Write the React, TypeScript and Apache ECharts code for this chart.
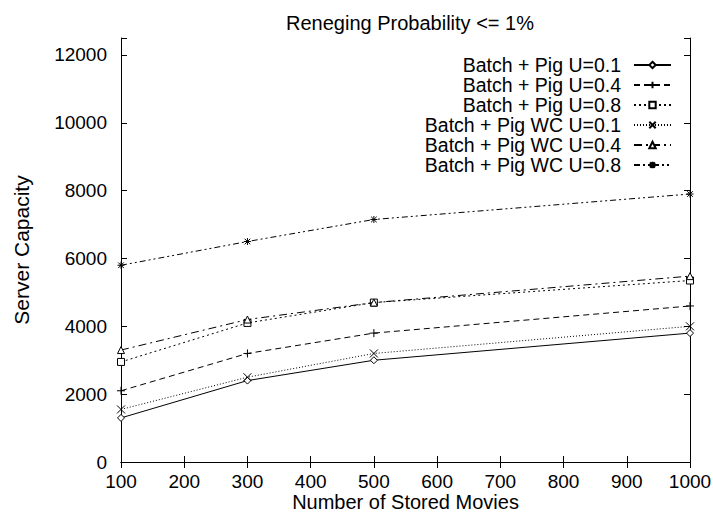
import React, { useEffect, useRef } from "react";
import * as echarts from "echarts";

const movies = [100, 300, 500, 1000];
const seriesNames = [
  "Batch + Pig U=0.1",
  "Batch + Pig U=0.4",
  "Batch + Pig U=0.8",
  "Batch + Pig WC U=0.1",
  "Batch + Pig WC U=0.4",
  "Batch + Pig WC U=0.8",
];
const pigU01 = [1300, 2400, 3000, 3800];
const pigU04 = [2100, 3200, 3800, 4600];
const pigU08 = [2950, 4100, 4700, 5350];
const wcU01 = [1550, 2500, 3200, 4000];
const wcU04 = [3300, 4200, 4700, 5480];
const wcU08 = [5800, 6500, 7150, 7900];
const allValues = [pigU01, pigU04, pigU08, wcU01, wcU04, wcU08];

const symbols = [
  "diamond",
  "path://M0,-1L0,1M-1,0L1,0",
  "rect",
  "path://M-1,-1L1,1M-1,1L1,-1",
  "triangle",
  "path://M0,-1L0,1M-1,0L1,0M-0.8,-0.8L0.8,0.8M-0.8,0.8L0.8,-0.8",
];
const symbolSizes = [7, 8, 7, 8, 7, 7];
const dashes: any[] = [
  "solid",
  [6, 4],
  [2, 3],
  [1, 2],
  [8, 4, 2, 4],
  [6, 3, 2, 3, 2, 3],
];

export default function App() {
  const ref = useRef<HTMLDivElement>(null);
  useEffect(() => {
    if (!ref.current) return;
    const chart = echarts.init(ref.current, null, { renderer: "svg" });
    const font = "Liberation Sans, Arial, Helvetica, sans-serif";
    const axisCommon = {
      axisLine: { show: true, lineStyle: { color: "#000", width: 1 } },
      axisTick: { show: true, inside: true, length: 6, lineStyle: { color: "#000" } },
      splitLine: { show: false },
    };
    chart.setOption({
      animation: false,
      backgroundColor: "#fff",
      textStyle: { fontFamily: font },
      title: {
        text: "Reneging Probability <= 1%",
        left: 405,
        textAlign: "center",
        top: 8,
        textStyle: { fontSize: 20, fontWeight: "normal", color: "#000", fontFamily: font },
      },
      grid: {
        left: 121,
        right: 23,
        top: 38,
        bottom: 51,
        containLabel: false,
        outerBoundsMode: "none",
      },
      legend: {
        orient: "vertical",
        right: 36,
        top: 50,
        align: "right",
        itemGap: 0,
        itemWidth: 37,
        itemHeight: 8,
        data: seriesNames,
        textStyle: {
          fontSize: 19.5,
          lineHeight: 20,
          color: "#000",
          fontFamily: font,
          width: 260,
          align: "right",
          padding: [0, 8, 0, 0],
        },
        selectedMode: false,
      },
      xAxis: [
        {
          type: "value",
          min: 100,
          max: 1000,
          interval: 100,
          name: "Number of Stored Movies",
          nameLocation: "middle",
          nameGap: 30,
          nameMoveOverlap: false,
          nameTextStyle: { fontSize: 20, color: "#000", fontFamily: font },
          axisLabel: {
            fontSize: 19,
            color: "#000",
            margin: 10,
            fontFamily: font,
            formatter: (v: number) => String(v),
          },
          ...axisCommon,
        },
        {
          type: "value",
          position: "top",
          min: 100,
          max: 1000,
          interval: 100,
          axisLabel: { show: false },
          ...axisCommon,
        },
      ],
      yAxis: [
        {
          type: "value",
          min: 0,
          max: 12500,
          interval: 2000,
          name: "Server Capacity",
          nameLocation: "middle",
          nameGap: 89,
          nameMoveOverlap: false,
          nameTextStyle: { fontSize: 21, color: "#000", fontFamily: font },
          axisLabel: {
            fontSize: 19,
            color: "#000",
            margin: 14,
            fontFamily: font,
            formatter: (v: number) => (v % 2000 === 0 ? String(v) : ""),
          },
          ...axisCommon,
        },
        {
          type: "value",
          position: "right",
          min: 0,
          max: 12500,
          interval: 2000,
          axisLabel: { show: false },
          ...axisCommon,
        },
      ],
      series: seriesNames.map((name, i) => ({
        name,
        type: "line",
        xAxisIndex: 0,
        yAxisIndex: 0,
        data: movies.map((m, j) => [m, allValues[i][j]]),
        symbol: symbols[i],
        symbolSize: symbolSizes[i],
        showSymbol: true,
        lineStyle: { color: "#000", width: 1, type: dashes[i] },
        itemStyle: { color: "#fff", borderColor: "#000", borderWidth: 1 },
        emphasis: { disabled: true },
        z: 2 + i,
      })),
    });
    return () => chart.dispose();
  }, []);
  return (
    <div
      ref={ref}
      style={{ width: 713, height: 513, position: "absolute", left: 0, top: 0 }}
    />
  );
}
